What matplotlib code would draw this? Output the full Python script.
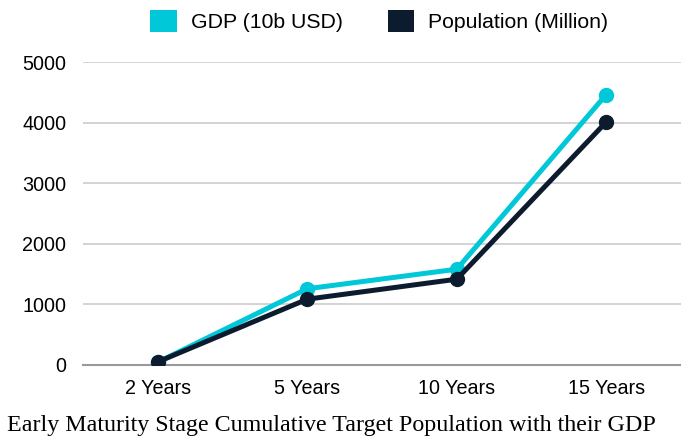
import matplotlib.pyplot as plt
from matplotlib.patches import Patch

categories = ["2 Years", "5 Years", "10 Years", "15 Years"]
gdp = [45, 1257, 1580, 4464]
population = [50, 1085, 1415, 4010]

cyan = "#00C8D8"
navy = "#0D1B2E"

plt.rcParams['font.family'] = ['Liberation Sans', 'DejaVu Sans']

fig = plt.figure(figsize=(6.81, 4.37), dpi=100)
ax = fig.add_axes([0.122, 0.165, 0.878, 0.693])

x = range(len(categories))
ax.plot(x, gdp, color=cyan, lw=3.6, marker="o", ms=10, zorder=3)
ax.plot(x, population, color=navy, lw=3.6, marker="o", ms=10, zorder=4)

ax.set_xlim(-0.5, 3.5)
ax.set_ylim(0, 5000)
ax.set_yticks(range(0, 5001, 1000))
ax.set_xticks(list(x))
ax.set_xticklabels(categories)
ax.tick_params(axis="both", length=0, labelsize=14.2, colors="black")
ax.tick_params(axis="y", pad=12)
ax.tick_params(axis="x", pad=10)
ax.grid(axis="y", color="#cccccc", lw=1.2)
ax.set_axisbelow(True)
for s in ["top", "right", "left"]:
    ax.spines[s].set_visible(False)
ax.spines["bottom"].set_color("#999999")
ax.spines["bottom"].set_linewidth(1.5)

handles = [Patch(facecolor=cyan, edgecolor="none"),
           Patch(facecolor=navy, edgecolor="none")]
fig.legend(handles, ["GDP (10b USD)", "Population (Million)"], loc="center",
           bbox_to_anchor=(0.557, 0.952), ncol=2, frameon=False, fontsize=15.3,
           handlelength=1.25, handleheight=1.25, handletextpad=0.67,
           columnspacing=2.1)

fig.text(0.487, 0.014, "Early Maturity Stage Cumulative Target Population with their GDP",
         ha="center", va="baseline", fontsize=17.3, family=["Liberation Serif", "DejaVu Serif"])

fig.savefig("out.png", dpi=100)
